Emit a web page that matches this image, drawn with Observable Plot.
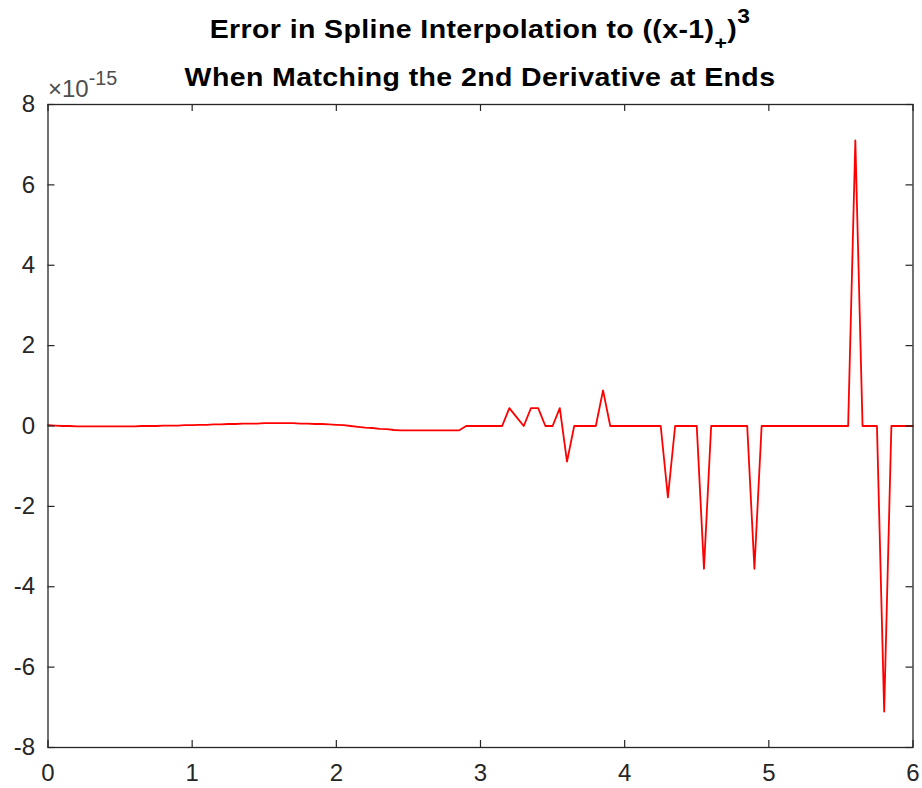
<!DOCTYPE html>
<html>
<head>
<meta charset="utf-8">
<script src="https://cdn.jsdelivr.net/npm/d3@7"></script>
<script src="https://cdn.jsdelivr.net/npm/@observablehq/plot@0.6"></script>
<style>
  html, body { margin: 0; padding: 0; background: #fff; }
  #wrap { position: relative; width: 922px; height: 788px; font-family: "Liberation Sans", Arial, Helvetica, sans-serif; }
  #chart svg { display: block; }
  .title { position: absolute; left: 0; width: 960px; text-align: center; font-weight: bold; font-size: 28.5px; line-height: 28.5px; letter-spacing: 0.4px; color: #000; white-space: nowrap; transform: scaleY(0.9); transform-origin: 50% 24px; }
  .title sub { font-size: 75%; vertical-align: -0.55em; line-height: 0; }
  .title sup { font-size: 80%; vertical-align: 0.75em; line-height: 0; }
  #exp { position: absolute; left: 48px; top: 77px; font-size: 24px; line-height: 24px; color: #4d4d4d; white-space: nowrap; }
  #exp .x { font-weight: 300; }
  #exp sup { font-size: 82%; vertical-align: 0.6em; line-height: 0; }
</style>
</head>
<body>
<div id="wrap">
  <div id="chart"></div>
  <div class="title" style="top:13px">Error in Spline Interpolation to ((x-1)<sub>+</sub>)<sup>3</sup></div>
  <div class="title" style="top:62px">When Matching the 2nd Derivative at Ends</div>
  <div id="exp"><span class="x">×</span>10<sup>-15</sup></div>
</div>
<script>
// Sample spacing of the interpolation grid (x from 0 to 6)
const xStep = 0.05;
// Error values in units of 1e-15, one per grid point x = 0, 0.05, ..., 6
const errValues = [
  0.02, 0.01, 0.00, 0.00, -0.01, -0.01, -0.01, -0.01, -0.01, -0.01,
  -0.01, -0.01, -0.01, 0.00, 0.00, 0.00, 0.01, 0.01, 0.01, 0.02,
  0.02, 0.03, 0.03, 0.04, 0.04, 0.05, 0.05, 0.06, 0.06, 0.06,
  0.07, 0.07, 0.07, 0.07, 0.07, 0.06, 0.06, 0.05, 0.05, 0.04,
  0.03, 0.02, 0.00, -0.02, -0.04, -0.05, -0.07, -0.08, -0.10, -0.11,
  -0.11, -0.11, -0.11, -0.11, -0.11, -0.11, -0.11, -0.11, 0, 0,
  0, 0, 0, 0, 0.444, 0.222, 0, 0.444, 0.444, 0,
  0, 0.444, -0.888, 0, 0, 0, 0, 0.888, 0, 0,
  0, 0, 0, 0, 0, 0, -1.776, 0, 0, 0,
  0, -3.553, 0, 0, 0, 0, 0, 0, -3.553, 0,
  0, 0, 0, 0, 0, 0, 0, 0, 0, 0,
  0, 0, 7.105, 0, 0, 0, -7.105, 0, 0, 0,
  0
];
const xTicks = [0, 1, 2, 3, 4, 5, 6];
const yTicks = [-8, -6, -4, -2, 0, 2, 4, 6, 8];

const data = errValues.map((v, i) => ({x: i * xStep, y: v}));

const W = 922, H = 788, mT = 104, mB = 41, mL = 47.5, mR = 9.5;
const tick = 7;
const axisColor = "#262626";

const chart = Plot.plot({
  width: W, height: H,
  marginTop: mT, marginBottom: mB, marginLeft: mL, marginRight: mR,
  style: {fontFamily: '"Liberation Sans", Arial, sans-serif', background: "#fff", color: axisColor},
  x: {domain: [0, 6]},
  y: {domain: [-8, 8]},
  marks: [
    Plot.line(data, {x: "x", y: "y", stroke: "#ff0000", strokeWidth: 1.8}),
    // inward ticks, bottom/top
    Plot.tickX(xTicks, {x: d => d, stroke: axisColor, strokeWidth: 1.2, insetTop: H - mT - mB - tick}),
    Plot.tickX(xTicks, {x: d => d, stroke: axisColor, strokeWidth: 1.2, insetBottom: H - mT - mB - tick}),
    // inward ticks, left/right
    Plot.tickY(yTicks, {y: d => d, stroke: axisColor, strokeWidth: 1.2, insetRight: W - mL - mR - tick}),
    Plot.tickY(yTicks, {y: d => d, stroke: axisColor, strokeWidth: 1.2, insetLeft: W - mL - mR - tick}),
    Plot.frame({stroke: axisColor, strokeWidth: 1.3}),
    Plot.axisX({ticks: xTicks, tickSize: 0, tickPadding: 16, fontSize: 24, label: null, tickFormat: d => String(d)}),
    Plot.axisY({ticks: yTicks, tickSize: 0, tickPadding: 13, fontSize: 24, label: null, tickFormat: d => String(d)})
  ]
});
document.getElementById("chart").appendChild(chart);
</script>
</body>
</html>
